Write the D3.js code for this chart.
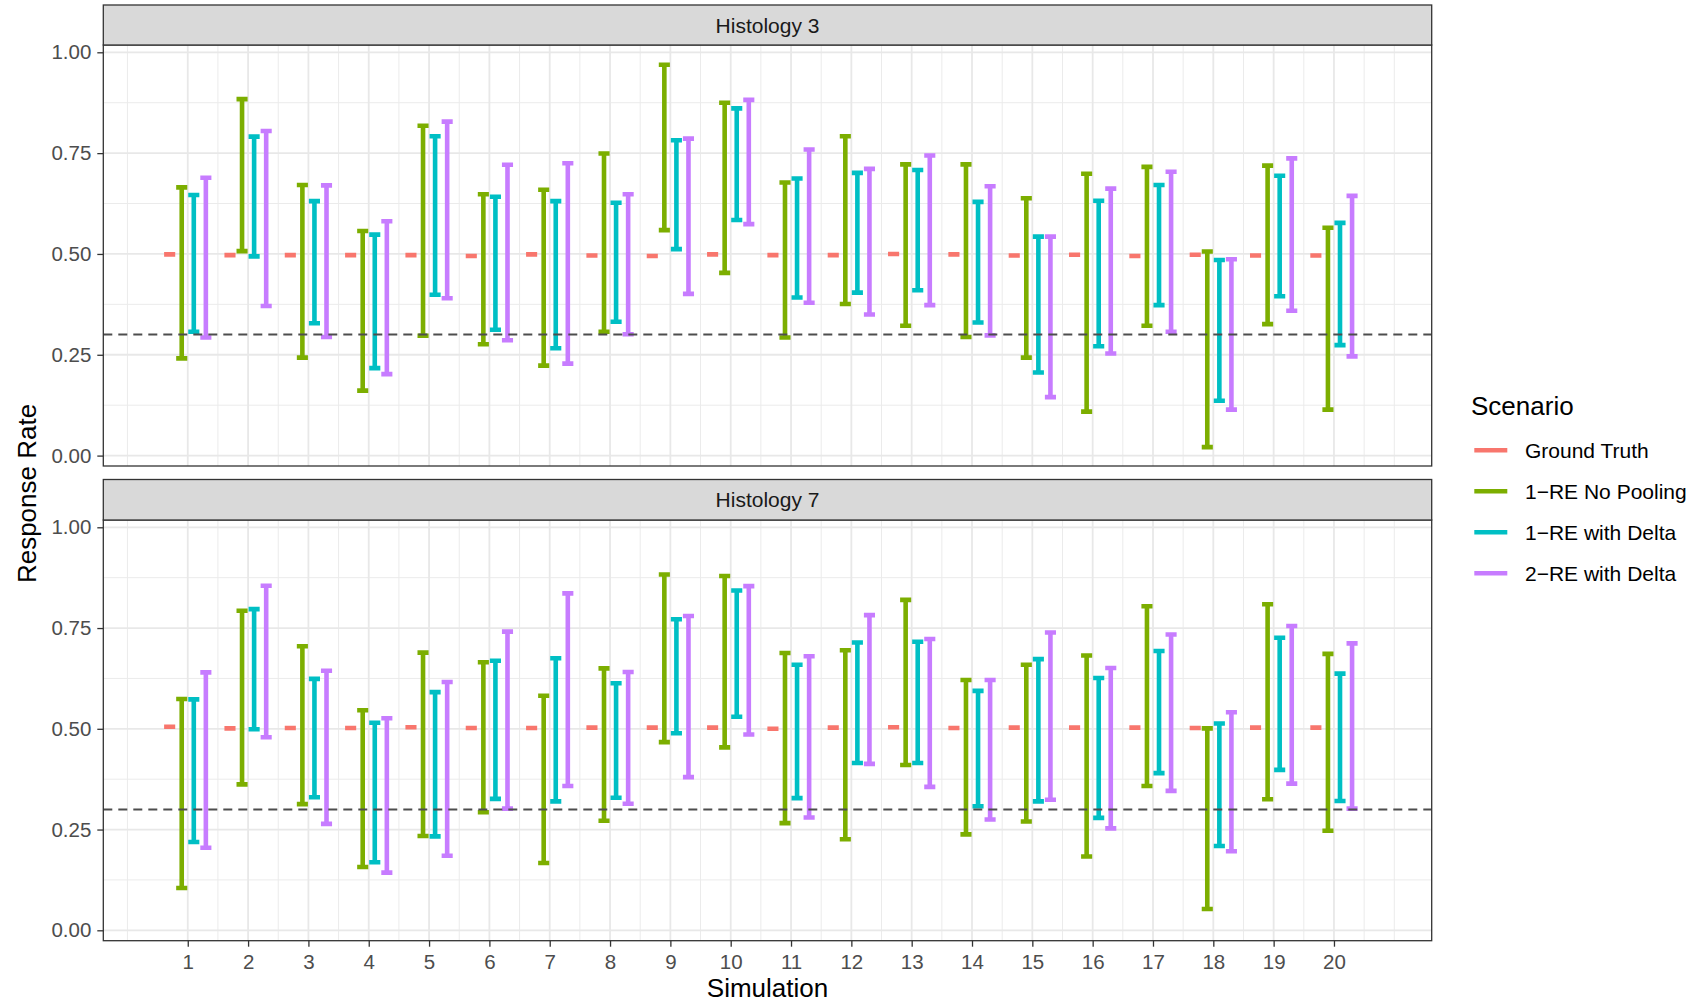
<!DOCTYPE html>
<html>
<head>
<meta charset="utf-8">
<script src="https://cdn.jsdelivr.net/npm/d3@7"></script>
<style>
  body { margin: 0; background: #ffffff; }
  svg { display: block; }
  text { font-family: "Liberation Sans", Arial, sans-serif; }
</style>
</head>
<body>
<svg id="chart" width="1701" height="1002"></svg>
<script>
// ---------------- DATA ----------------
const simulations = [1,2,3,4,5,6,7,8,9,10,11,12,13,14,15,16,17,18,19,20];
const scenarios = ["Ground Truth", "1\u2212RE No Pooling", "1\u2212RE with Delta", "2\u2212RE with Delta"];
const histologies = ["Histology 3", "Histology 7"];
const yTickValues = [0, 0.25, 0.5, 0.75, 1];
const yTickLabels = ["0.00", "0.25", "0.50", "0.75", "1.00"];
const xTickValues = simulations;
const referenceRate = 0.3;

// Histology 3
const h3Truth       = [0.499,0.497,0.497,0.497,0.497,0.495,0.499,0.496,0.495,0.499,0.497,0.497,0.500,0.499,0.496,0.498,0.495,0.498,0.496,0.496];
const h3NoPoolLower = [0.241,0.507,0.243,0.161,0.297,0.276,0.223,0.307,0.559,0.453,0.293,0.376,0.322,0.294,0.243,0.109,0.322,0.021,0.326,0.114];
const h3NoPoolUpper = [0.665,0.884,0.671,0.557,0.818,0.648,0.659,0.749,0.969,0.875,0.677,0.792,0.722,0.722,0.638,0.699,0.716,0.506,0.719,0.565];
const h3Delta1Lower = [0.307,0.494,0.328,0.217,0.399,0.312,0.266,0.332,0.512,0.584,0.392,0.404,0.410,0.330,0.206,0.271,0.373,0.136,0.395,0.274];
const h3Delta1Upper = [0.646,0.791,0.631,0.548,0.792,0.642,0.631,0.627,0.782,0.861,0.687,0.701,0.708,0.629,0.543,0.632,0.671,0.485,0.694,0.577];
const h3Delta2Lower = [0.293,0.371,0.294,0.202,0.390,0.286,0.228,0.301,0.401,0.574,0.379,0.350,0.373,0.298,0.145,0.253,0.307,0.114,0.359,0.246];
const h3Delta2Upper = [0.689,0.805,0.670,0.581,0.828,0.721,0.725,0.648,0.786,0.882,0.759,0.711,0.744,0.668,0.543,0.662,0.704,0.487,0.737,0.644];

// Histology 7
const h7Truth       = [0.505,0.501,0.502,0.502,0.504,0.502,0.502,0.503,0.503,0.503,0.500,0.503,0.504,0.502,0.503,0.503,0.503,0.502,0.503,0.503];
const h7NoPoolLower = [0.105,0.362,0.313,0.157,0.234,0.293,0.167,0.272,0.467,0.454,0.266,0.226,0.410,0.238,0.270,0.183,0.358,0.053,0.325,0.247];
const h7NoPoolUpper = [0.574,0.793,0.705,0.546,0.689,0.665,0.582,0.650,0.883,0.879,0.688,0.695,0.820,0.621,0.659,0.682,0.804,0.501,0.809,0.686];
const h7Delta1Lower = [0.219,0.499,0.330,0.169,0.233,0.326,0.320,0.329,0.489,0.530,0.328,0.415,0.415,0.308,0.320,0.279,0.390,0.209,0.398,0.321];
const h7Delta1Upper = [0.573,0.797,0.624,0.515,0.591,0.669,0.675,0.613,0.772,0.843,0.659,0.714,0.716,0.594,0.673,0.626,0.693,0.513,0.726,0.637];
const h7Delta2Lower = [0.205,0.479,0.264,0.143,0.185,0.302,0.358,0.314,0.380,0.486,0.280,0.413,0.356,0.275,0.324,0.253,0.346,0.196,0.364,0.302];
const h7Delta2Upper = [0.640,0.855,0.644,0.526,0.616,0.741,0.836,0.641,0.780,0.854,0.680,0.782,0.723,0.621,0.739,0.651,0.734,0.541,0.755,0.712];

// ---------------- STYLE / LAYOUT ----------------
const scenarioColors = ["#F8766D", "#7CAE00", "#00BFC4", "#C77CFF"];
const dodgeOffsets = [-0.3, -0.1, 0.1, 0.3];
const capHalf = 0.092;
const panelLeft = 103.3, panelRight = 1431.7;
const panelsLayout = [
  { stripTop: 5,     top: 45,  bottom: 466 },
  { stripTop: 479.5, top: 520, bottom: 940.7 }
];

// build table
function rowsFor(truth, seriesPairs) {
  const rows = [];
  simulations.forEach((s, i) => {
    rows.push({ sim: s, k: 0, lo: truth[i], hi: truth[i] });
    seriesPairs.forEach((p, j) => rows.push({ sim: s, k: j + 1, lo: p[0][i], hi: p[1][i] }));
  });
  return rows;
}
const panelData = [
  rowsFor(h3Truth, [[h3NoPoolLower, h3NoPoolUpper], [h3Delta1Lower, h3Delta1Upper], [h3Delta2Lower, h3Delta2Upper]]),
  rowsFor(h7Truth, [[h7NoPoolLower, h7NoPoolUpper], [h7Delta1Lower, h7Delta1Upper], [h7Delta2Lower, h7Delta2Upper]])
];

const svg = d3.select("#chart");
const x = d3.scaleLinear().domain([-0.4, 21.62]).range([panelLeft, panelRight]);

const xMinor = [0];
xTickValues.forEach(v => xMinor.push(v + 0.5));
xMinor.push(21);
const yMinor = [];
for (let i = 0; i < yTickValues.length - 1; i++) yMinor.push((yTickValues[i] + yTickValues[i + 1]) / 2);

panelsLayout.forEach((L, pi) => {
  const y = d3.scaleLinear().domain([-0.0258, 1.0181]).range([L.bottom, L.top]);
  const g = svg.append("g");

  g.append("rect").attr("x", panelLeft).attr("y", L.top)
    .attr("width", panelRight - panelLeft).attr("height", L.bottom - L.top).attr("fill", "#ffffff");

  // minor grid
  g.selectAll(".vminor").data(xMinor).join("line")
    .attr("x1", d => x(d)).attr("x2", d => x(d)).attr("y1", L.top).attr("y2", L.bottom)
    .attr("stroke", "#EBEBEB").attr("stroke-width", 1);
  g.selectAll(".hminor").data(yMinor).join("line")
    .attr("x1", panelLeft).attr("x2", panelRight).attr("y1", d => y(d)).attr("y2", d => y(d))
    .attr("stroke", "#EBEBEB").attr("stroke-width", 1);
  // major grid
  g.selectAll(".vmajor").data(xTickValues).join("line")
    .attr("x1", d => x(d)).attr("x2", d => x(d)).attr("y1", L.top).attr("y2", L.bottom)
    .attr("stroke", "#E8E8E8").attr("stroke-width", 1.8);
  g.selectAll(".hmajor").data(yTickValues).join("line")
    .attr("x1", panelLeft).attr("x2", panelRight).attr("y1", d => y(d)).attr("y2", d => y(d))
    .attr("stroke", "#E8E8E8").attr("stroke-width", 1.8);

  // error bars
  const bars = g.append("g");
  panelData[pi].forEach(d => {
    const cx = d.sim + dodgeOffsets[d.k];
    let p = `M${x(cx - capHalf)},${y(d.hi)}H${x(cx + capHalf)}`;
    p += `M${x(cx - capHalf)},${y(d.lo)}H${x(cx + capHalf)}`;
    if (d.hi !== d.lo) p += `M${x(cx)},${y(d.hi)}V${y(d.lo)}`;
    bars.append("path").attr("d", p).attr("fill", "none")
      .attr("stroke", scenarioColors[d.k]).attr("stroke-width", 4.6).attr("stroke-linecap", "butt");
  });

  // reference line
  g.append("line").attr("x1", panelLeft).attr("x2", panelRight)
    .attr("y1", y(referenceRate)).attr("y2", y(referenceRate))
    .attr("stroke", "#4D4D4D").attr("stroke-width", 2).attr("stroke-dasharray", "9,6");

  // panel border
  g.append("rect").attr("x", panelLeft).attr("y", L.top)
    .attr("width", panelRight - panelLeft).attr("height", L.bottom - L.top)
    .attr("fill", "none").attr("stroke", "#333333").attr("stroke-width", 1.3);

  // strip
  g.append("rect").attr("x", panelLeft).attr("y", L.stripTop)
    .attr("width", panelRight - panelLeft).attr("height", L.top - L.stripTop)
    .attr("fill", "#D9D9D9").attr("stroke", "#333333").attr("stroke-width", 1.3);
  g.append("text").attr("x", (panelLeft + panelRight) / 2).attr("y", (L.stripTop + L.top) / 2)
    .attr("dy", "0.36em").attr("text-anchor", "middle")
    .attr("font-size", 21).attr("fill", "#1A1A1A").text(histologies[pi]);

  // y axis
  const yAxis = d3.axisLeft(y).tickValues(yTickValues)
    .tickFormat((d, i) => yTickLabels[i]).tickSize(6).tickPadding(6);
  const ya = g.append("g").attr("transform", `translate(${panelLeft},0)`).call(yAxis);
  ya.select(".domain").remove();
  ya.selectAll(".tick line").attr("stroke", "#333333").attr("stroke-width", 1.3);
  ya.selectAll(".tick text").attr("fill", "#4D4D4D").attr("font-size", 20.5)
    .attr("font-family", "'Liberation Sans', Arial, sans-serif");

  // x axis only on bottom panel
  if (pi === panelsLayout.length - 1) {
    const xAxis = d3.axisBottom(x).tickValues(xTickValues).tickFormat(d3.format("d"))
      .tickSize(6).tickPadding(7.6);
    const xa = g.append("g").attr("transform", `translate(0,${L.bottom})`).call(xAxis);
    xa.select(".domain").remove();
    xa.selectAll(".tick line").attr("stroke", "#333333").attr("stroke-width", 1.3);
    xa.selectAll(".tick text").attr("fill", "#4D4D4D").attr("font-size", 20.5)
      .attr("font-family", "'Liberation Sans', Arial, sans-serif");
  }
});

// axis titles
svg.append("text").attr("x", (panelLeft + panelRight) / 2).attr("y", 997)
  .attr("text-anchor", "middle").attr("font-size", 26).attr("fill", "#000000").text("Simulation");
svg.append("text").attr("transform", "translate(36,493.5) rotate(-90)")
  .attr("text-anchor", "middle").attr("font-size", 26).attr("fill", "#000000").text("Response Rate");

// legend
const legend = svg.append("g");
legend.append("text").attr("x", 1471).attr("y", 415).attr("font-size", 26).attr("fill", "#000000").text("Scenario");
scenarios.forEach((s, i) => {
  const ky = 450.3 + i * 41;
  legend.append("line").attr("x1", 1474.3).attr("x2", 1507.3).attr("y1", ky).attr("y2", ky)
    .attr("stroke", scenarioColors[i]).attr("stroke-width", 4.6);
  legend.append("text").attr("x", 1525).attr("y", ky).attr("dy", "0.36em")
    .attr("font-size", 21).attr("fill", "#000000").text(s);
});
</script>
</body>
</html>
